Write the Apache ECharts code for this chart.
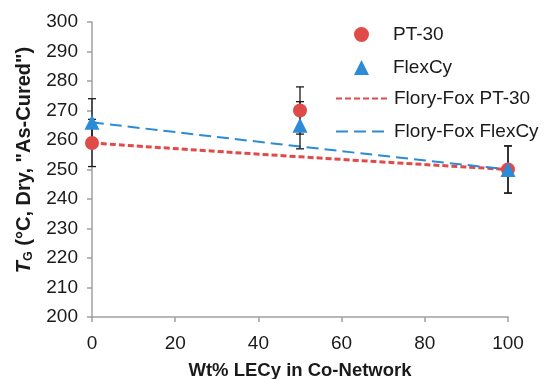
<!DOCTYPE html>
<html>
<head>
<meta charset="utf-8">
<script src="https://cdn.jsdelivr.net/npm/echarts@6/dist/echarts.min.js"></script>
<style>
  html, body { margin: 0; padding: 0; background: #fff; }
  #chart { width: 547px; height: 379px; }
</style>
</head>
<body>
<div id="chart"></div>
<script>
// values
const wtPct = [0, 50, 100]
const pt30 = [259, 270, 250]
const flexCy = [266, 265, 250]
const errBar = [8, 8, 8]
const foxPt30 = [259, 254.3, 250]
const foxFlexCy = [266, 257.8, 250]

const red = '#E04A48'
const blue = '#2B8BD6'
const font = '"Liberation Sans", Arial, sans-serif'
const ink = '#1a1a1a'

let chart = echarts.init(document.getElementById('chart'))

function errItems(vals){
  return wtPct.map((x, i) => [x, vals[i] - errBar[i], vals[i] + errBar[i]])
}

function renderErr(params, api){
  let x = api.value(0)
  let lo = api.coord([x, api.value(1)])
  let hi = api.coord([x, api.value(2)])
  let w = 4
  let style = { stroke: ink, lineWidth: 1.3 }
  return {
    type: 'group',
    children: [
      { type: 'line', shape: { x1: lo[0], y1: lo[1], x2: hi[0], y2: hi[1] }, style },
      { type: 'line', shape: { x1: lo[0]-w, y1: lo[1], x2: lo[0]+w, y2: lo[1] }, style },
      { type: 'line', shape: { x1: hi[0]-w, y1: hi[1], x2: hi[0]+w, y2: hi[1] }, style }
    ]
  }
}

let legendText = { fontSize: 19, color: ink, fontFamily: font }

let option = {
  animation: false,
  textStyle: { fontFamily: font },
  grid: { left: 92, right: 39, top: 22, bottom: 62, outerBoundsMode: 'none', containLabel: false },
  legend: [
    {
      orient: 'vertical',
      left: 354,
      top: 25,
      padding: 0,
      itemWidth: 15,
      itemHeight: 15,
      itemGap: 14,
      textStyle: Object.assign({ padding: [0, 0, 0, 19] }, legendText),
      data: ['PT-30', 'FlexCy']
    },
    {
      orient: 'vertical',
      left: 335,
      top: 89,
      padding: 0,
      itemWidth: 53,
      itemHeight: 14,
      itemGap: 14,
      textStyle: legendText,
      data: [
        { name: 'Flory-Fox PT-30', itemStyle: { opacity: 0 } },
        { name: 'Flory-Fox FlexCy', itemStyle: { opacity: 0 } }
      ]
    }
  ],
  xAxis: {
    type: 'value',
    min: 0, max: 100, interval: 20,
    name: 'Wt% LECy in Co-Network',
    nameLocation: 'middle',
    nameGap: 44,
    nameTextStyle: { fontSize: 18.5, fontWeight: 'bold', color: ink, fontFamily: font },
    axisLine: { lineStyle: { color: '#a0a0a0', width: 1.5 } },
    axisTick: { show: true, length: 5, lineStyle: { color: '#a0a0a0', width: 1.5 } },
    axisLabel: { fontSize: 19, color: ink, margin: 17 },
    splitLine: { show: false }
  },
  yAxis: {
    type: 'value',
    min: 200, max: 300, interval: 10,
    name: '{it|T}{sub|G}{n| (°C, Dry, "As-Cured")}',
    nameLocation: 'middle',
    nameRotate: 90,
    nameGap: 56,
    nameTextStyle: {
      padding: [0, 0, 0, 19],
      rich: {
        it: { fontSize: 20, fontWeight: 'bold', fontStyle: 'italic', color: ink, fontFamily: font },
        sub: { fontSize: 12.5, fontWeight: 'bold', color: ink, verticalAlign: 'bottom', padding: [8, 0, 0, 0], fontFamily: font },
        n: { fontSize: 20, fontWeight: 'bold', color: ink, fontFamily: font }
      }
    },
    axisLine: { show: true, lineStyle: { color: '#a0a0a0', width: 1.5 } },
    axisTick: { show: true, length: 5, lineStyle: { color: '#a0a0a0', width: 1.5 } },
    axisLabel: { fontSize: 19, color: ink, margin: 14 },
    splitLine: { show: false }
  },
  series: [
    {
      name: 'Flory-Fox PT-30',
      type: 'line',
      smooth: true,
      symbol: 'none',
      data: wtPct.map((x, i) => [x, foxPt30[i]]),
      lineStyle: { color: red, width: 3, type: [6, 3] },
      itemStyle: { color: red },
      z: 2
    },
    {
      name: 'Flory-Fox FlexCy',
      type: 'line',
      smooth: true,
      symbol: 'none',
      data: wtPct.map((x, i) => [x, foxFlexCy[i]]),
      lineStyle: { color: blue, width: 2, type: [12, 6] },
      itemStyle: { color: blue },
      z: 2
    },
    {
      type: 'custom',
      renderItem: renderErr,
      data: errItems(pt30),
      encode: { x: 0, y: [1, 2] },
      z: 3,
      silent: true
    },
    {
      type: 'custom',
      renderItem: renderErr,
      data: errItems(flexCy),
      encode: { x: 0, y: [1, 2] },
      z: 3,
      silent: true
    },
    {
      name: 'PT-30',
      type: 'scatter',
      symbol: 'circle',
      symbolSize: 14,
      data: wtPct.map((x, i) => [x, pt30[i]]),
      itemStyle: { color: red, opacity: 1 },
      z: 4
    },
    {
      name: 'FlexCy',
      type: 'scatter',
      symbol: 'triangle',
      symbolSize: 15,
      data: wtPct.map((x, i) => [x, flexCy[i]]),
      itemStyle: { color: blue, opacity: 1 },
      z: 5
    }
  ]
}

chart.setOption(option)
</script>
</body>
</html>
